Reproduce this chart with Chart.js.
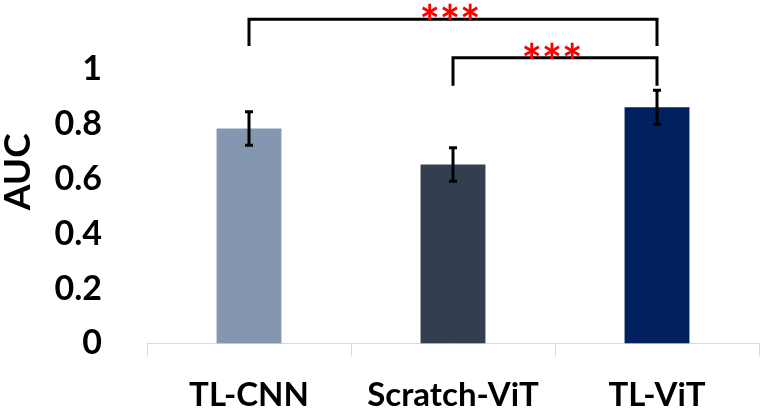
<!DOCTYPE html>
<html>
<head>
<meta charset="utf-8">
<script src="https://cdn.jsdelivr.net/npm/chart.js@4/dist/chart.umd.min.js"></script>
<style>
  html, body { margin: 0; padding: 0; background: #fff; }
  #wrap { width: 762px; height: 411px; }
</style>
</head>
<body>
<div id="wrap"><canvas id="aucChart" width="762" height="411"></canvas></div>
<script>
const categories = ['TL-CNN', 'Scratch-ViT', 'TL-ViT'];
const aucValues = [0.782, 0.651, 0.860];
const aucErrors = [0.061, 0.061, 0.062];
const barColors = ['#8497B0', '#333F50', '#002060'];
const yTicks = [0, 0.2, 0.4, 0.6, 0.8, 1];

// significance brackets: from/to category index, bracket height and drop end (AUC units)
const comparisons = [
    { from: 0, to: 2, top: 1.18, drop: 1.083, label: '***' },
    { from: 1, to: 2, top: 1.04, drop: 0.938, label: '***' }
];

const FONT = 'Lato, "Open Sans", sans-serif';

// error bars
const errorBarPlugin = {
    id: 'errorBars',
    afterDatasetsDraw(chart) {
        const ctx = chart.ctx;
        const x = chart.scales.x, y = chart.scales.y;
        ctx.save();
        ctx.strokeStyle = '#000';
        ctx.lineWidth = 3;
        aucValues.forEach((v, i) => {
            const px = x.getPixelForValue(i);
            const top = y.getPixelForValue(v + aucErrors[i]);
            const bot = y.getPixelForValue(v - aucErrors[i]);
            ctx.beginPath();
            ctx.moveTo(px, top); ctx.lineTo(px, bot);
            ctx.moveTo(px - 4, top); ctx.lineTo(px + 4, top);
            ctx.moveTo(px - 4, bot); ctx.lineTo(px + 4, bot);
            ctx.stroke();
        });
        ctx.restore();
    }
};

// brackets + red stars
const bracketPlugin = {
    id: 'brackets',
    afterDraw(chart) {
        const ctx = chart.ctx;
        const x = chart.scales.x, y = chart.scales.y;
        ctx.save();
        comparisons.forEach(c => {
            const x1 = x.getPixelForValue(c.from);
            const x2 = x.getPixelForValue(c.to);
            const yt = y.getPixelForValue(c.top);
            const yd = y.getPixelForValue(c.drop);
            ctx.strokeStyle = '#000';
            ctx.lineWidth = 3;
            ctx.beginPath();
            ctx.moveTo(x1, yd); ctx.lineTo(x1, yt); ctx.lineTo(x2, yt); ctx.lineTo(x2, yd);
            ctx.stroke();

            ctx.fillStyle = '#FF0000';
            ctx.font = 'bold 48px ' + FONT;
            ctx.textAlign = 'center';
            ctx.textBaseline = 'alphabetic';
            const cx = (x1 + x2) / 2 - 3;
            const base = yt + 21;
            c.label.split('').forEach((s, k) => {
                ctx.fillText(s, cx + (k - 1) * 20.3, base);
            });
        });
        ctx.restore();
    }
};

new Chart(document.getElementById('aucChart'), {
    type: 'bar',
    data: {
        labels: categories,
        datasets: [{
            data: aucValues,
            backgroundColor: barColors,
            borderWidth: 0,
            categoryPercentage: 1,
            barPercentage: 0.318
        }]
    },
    options: {
        responsive: false,
        animation: false,
        layout: { padding: { top: 0, right: 3, bottom: 0, left: 0 } },
        plugins: {
            legend: { display: false },
            tooltip: { enabled: false }
        },
        scales: {
            x: {
                afterFit: scale => { scale.height = 67.5; },
                grid: {
                    display: true,
                    drawOnChartArea: false,
                    tickLength: 13,
                    color: '#D9D9D9'
                },
                border: { display: true, color: '#D9D9D9' },
                ticks: {
                    color: '#000',
                    padding: 19,
                    font: { family: FONT, size: 33, weight: 'bold' }
                }
            },
            y: {
                min: 0,
                max: 1.25,
                // keep the plot area where the original axes are
                afterFit: scale => {
                    scale.width = 147;
                    scale.paddingTop = 0;
                    scale.paddingBottom = 0;
                },
                afterBuildTicks: scale => {
                    scale.ticks = yTicks.map(v => ({ value: v }));
                },
                grid: { display: false },
                border: { display: false },
                ticks: {
                    color: '#000',
                    padding: 37,
                    font: { family: FONT, size: 34, weight: 'bold' },
                    callback: v => String(+Number(v).toFixed(1))
                },
                title: {
                    display: true,
                    text: 'AUC',
                    color: '#000',
                    padding: 0,
                    font: { family: FONT, size: 37, weight: 'bold', lineHeight: 1 }
                }
            }
        }
    },
    plugins: [errorBarPlugin, bracketPlugin]
});
</script>
</body>
</html>
